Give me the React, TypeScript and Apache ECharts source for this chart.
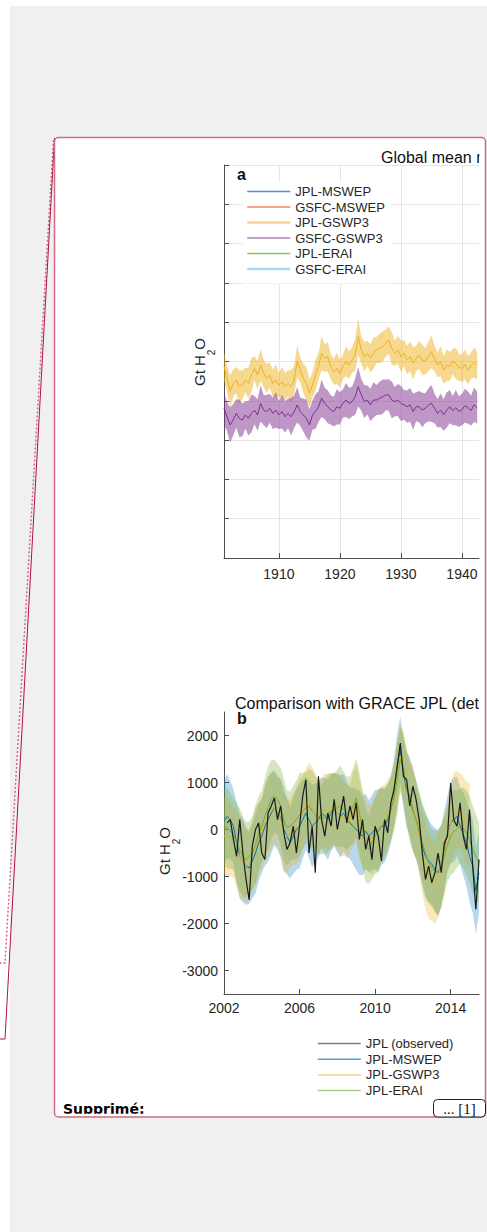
import React, { useEffect, useRef } from 'react';
import * as echarts from 'echarts';

const W = 487;
const H = 1232;
const FONT = "'Liberation Sans', Arial, Helvetica, sans-serif";
const INK = '#262626';

// ---- Panel a: global mean series (half-yearly samples from 1901) ----
const START_A = 1901;
const STEP_A = 0.5;
const jplGswp3 = [
  -26, -86, -153, -111, -94, -128, -120, -94, -111, -69, -35, -69, -18, -60, -86, -69, -111, -94, -120, -103,
  -128, -111, -128, -94, 1, -43, -86, -111, -162, -120, -69, -26, 42, 16, 25, -26, -52, -35, -60, -26,
  1, -18, 8, 33, 126, 59, 25, 42, 16, 42, 59, 67, 76, 93, 109, 67, 42, 59, 25, 42,
  8, 25, -9, 16, 33, 8, 1, 25, 50, 16, -18, 1, -43, -18, -26, 1, -10, -30, -35, -15,
  -45, -20, -5, -20,
];
const gsfcGswp3 = [
  -238, -281, -323, -298, -264, -289, -298, -272, -289, -264, -247, -272, -213, -247, -255, -238, -264, -247, -272, -255,
  -281, -264, -281, -255, -221, -255, -272, -289, -323, -272, -255, -230, -187, -213, -230, -247, -255, -230, -238, -213,
  -196, -213, -204, -179, -128, -170, -204, -196, -221, -196, -196, -187, -179, -170, -170, -196, -204, -196, -213, -221,
  -230, -221, -255, -230, -230, -247, -238, -221, -213, -238, -264, -247, -272, -247, -230, -250, -235, -255, -245, -225,
  -235, -250, -220, -235,
];
// half-widths of the ensemble spread
const jplGswp3Spread = [
  72, 64, 80, 70, 66, 84, 74, 62, 78, 88, 60, 72, 82, 68, 74, 64, 70, 80, 62, 76,
  70, 66, 84, 72, 80, 62, 74, 86, 70, 64, 78, 68, 86, 70, 74, 64, 66, 80, 72, 62,
  76, 70, 66, 82, 92, 70, 74, 64, 72, 80, 66, 74, 78, 68, 70, 84, 64, 72, 80, 66,
  72, 76, 82, 64, 70, 78, 66, 74, 84, 66, 62, 76, 70, 80, 74, 64, 80, 68, 70, 76,
  72, 66, 78, 70,
];
const gsfcGswp3Spread = [
  82, 74, 90, 80, 72, 94, 84, 70, 88, 96, 72, 80, 92, 76, 84, 74, 80, 90, 72, 86,
  80, 76, 94, 82, 90, 72, 84, 96, 80, 74, 88, 78, 96, 80, 84, 74, 76, 90, 82, 72,
  86, 80, 76, 92, 100, 80, 84, 74, 82, 90, 76, 84, 88, 78, 80, 94, 74, 82, 90, 76,
  82, 86, 92, 74, 80, 88, 76, 84, 94, 76, 72, 86, 80, 90, 84, 74, 90, 78, 80, 86,
  82, 76, 88, 80,
];
const legendA = ['JPL-MSWEP', 'GSFC-MSWEP', 'JPL-GSWP3', 'GSFC-GSWP3', 'JPL-ERAI', 'GSFC-ERAI'];
const decadeTicks = [1910, 1920, 1930, 1940];

// ---- Panel b: comparison with GRACE JPL (two-monthly samples from 2002) ----
const START_B = 2002;
const STEP_B = 1 / 6;
const observed = [
  null, 140, 210, -210, -570, 210, -500, -1060, -1500, -350, 0, 140, -500, -640, 350, 500, 670, 210, 500, -70,
  -425, -280, 70, -500, 70, 710, 1060, -500, 70, -920, 1130, 210, -140, 350, 70, 640, 0, 350, 710, 140,
  500, 210, 570, -210, 210, -425, -140, -640, 70, -140, -670, 210, -70, 570, 850, 1350, 1840, 1130, 1060, 500,
  920, 640, 210, -500, -1060, -780, -1130, -920, -500, -920, -280, -140, 990, 200, 70, 570, -140, -425, 425, -780,
  -1700, -640,
];
const mswep = [
  180, 280, 210, 70, -280, -570, -670, -780, -820, -670, -500, -280, -140, 70, 210, 350, 460, 350, 250, 0,
  -140, -280, -140, 0, 70, 210, 350, 210, 70, 140, 210, 350, 280, 210, 350, 425, 350, 280, 350, 210,
  140, 70, 0, -70, -140, -35, -140, -70, 0, -35, 70, 70, 210, 425, 780, 1280, 1700, 1200, 850, 710,
  425, 210, -70, -350, -570, -670, -740, -850, -920, -780, -425, -70, 140, 210, 280, 70, -100, -280, -570, -780,
  -1300, -920,
];
const gswp3 = [
  -140, -140, -210, -280, -425, -570, -670, -780, -710, -570, -350, -210, -70, 140, 280, 390, 460, 390, 210, -70,
  -140, -100, 0, 70, 210, 350, 570, 640, 500, 390, 280, 350, 425, 350, 425, 460, 350, 280, 210, 180,
  210, 425, 570, 210, 35, -100, -180, -210, -100, 35, 140, 210, 350, 500, 740, 1130, 1560, 1350, 920, 640,
  500, 210, -140, -500, -780, -990, -1100, -1130, -990, -780, -500, -140, 140, 350, 425, 390, 280, 140, 70,
];
const erai = [
  70, 35, -35, -100, -280, -425, -570, -640, -570, -500, -320, -100, 70, 280, 460, 640, 710, 640, 500, 210,
  35, 70, 140, 210, 320, 390, 460, 500, 390, 320, 250, 210, 280, 350, 390, 425, 460, 500, 425, 350,
  390, 500, 670, 350, 0, -350, -425, -280, -140, -35, 70, 140, 250, 425, 670, 1060, 1490, 1310, 920, 570,
  390, 210, 0, -280, -500, -710, -820, -890, -920, -780, -570, -320, -140, -35, 0, 70, 35, -70, -210, -425,
  -570, -710,
];
const mswepSpread = [
  850, 900, 820, 780, 860, 900, 880, 820, 760, 800, 860, 820, 780, 840, 900, 860, 800, 780, 840, 880,
  820, 760, 800, 860, 900, 840, 780, 820, 880, 840, 800, 760, 820, 860, 820, 780, 840, 880, 820, 800,
  760, 820, 860, 900, 840, 800, 760, 800, 840, 880, 820, 780, 740, 700, 720, 760, 700, 740, 800, 840,
  880, 840, 820, 860, 900, 880, 840, 880, 920, 880, 840, 800, 860, 900, 840, 820, 880, 920, 960, 1000,
  920, 880,
];
const gswp3Spread = [
  800, 840, 780, 740, 820, 860, 820, 780, 720, 760, 820, 780, 740, 800, 860, 820, 760, 740, 800, 840,
  780, 720, 760, 820, 860, 800, 740, 780, 840, 800, 760, 720, 780, 820, 780, 740, 800, 840, 780, 760,
  720, 780, 820, 860, 800, 760, 720, 760, 800, 840, 780, 740, 700, 680, 700, 740, 680, 720, 780, 820,
  860, 820, 800, 860, 920, 900, 860, 880, 900, 860, 820, 780, 840, 880, 820, 800, 840, 880, 900,
];
const eraiSpread = [
  820, 860, 800, 760, 840, 880, 850, 800, 740, 780, 840, 800, 760, 820, 880, 840, 780, 760, 820, 860,
  800, 740, 780, 840, 880, 820, 760, 800, 860, 820, 780, 740, 800, 840, 800, 760, 820, 860, 800, 780,
  740, 800, 840, 880, 820, 780, 740, 780, 820, 860, 800, 760, 720, 690, 710, 750, 690, 730, 790, 830,
  870, 830, 810, 850, 890, 870, 830, 870, 900, 860, 820, 780, 840, 880, 820, 800, 860, 900, 920, 940,
  900, 860,
];
const legendB = ['JPL (observed)', 'JPL-MSWEP', 'JPL-GSWP3', 'JPL-ERAI'];
const yearTicksB = [2002, 2006, 2010, 2014];
const valueTicksB = [-3000, -2000, -1000, 0, 1000, 2000];

const C = {
  blue: '#0072BD',
  orange: '#D95319',
  yellow: '#EDB120',
  purple: '#7E2F8E',
  green: '#77AC30',
  cyan: '#4DBEEE',
};

type Num = number | null;

function pairs(start: number, step: number, vals: Num[]) {
  return vals.map((v, i) => [start + i * step, v]);
}

// Shaded ensemble range drawn as one polygon (mean ± spread) through the axis scales.
function band(id: string, start: number, step: number, mean: number[], spread: number[], fill: string, axis: number) {
  const pts = mean.map((m, i) => [start + i * step, m - spread[i], m + spread[i]]);
  return {
    type: 'custom',
    name: id,
    xAxisIndex: axis,
    yAxisIndex: axis,
    silent: true,
    data: pts,
    encode: { x: 0, y: [1, 2] },
    renderItem: (params: any, api: any) => {
      if (params.dataIndex !== 0) return null;
      const upper = pts.map((p) => api.coord([p[0], p[2]]));
      const lower = pts.map((p) => api.coord([p[0], p[1]])).reverse();
      return {
        type: 'polygon',
        shape: { points: upper.concat(lower) },
        style: { fill, stroke: null },
      };
    },
  };
}

function line(name: string, data: any[], color: string, axis: number, width = 1) {
  return {
    type: 'line',
    name,
    data,
    symbol: 'none',
    silent: true,
    xAxisIndex: axis,
    yAxisIndex: axis,
    lineStyle: { color, width },
    itemStyle: { color },
    emphasis: { disabled: true },
  };
}

function axisNameText(x: number, y: number) {
  return {
    type: 'text',
    x,
    y,
    rotation: Math.PI / 2,
    z: -70,
    style: {
      text: '{n|Gt H}{s|2}{n|O}',
      align: 'center',
      verticalAlign: 'middle',
      rich: {
        n: { fontSize: 15, fontFamily: FONT, fill: INK, lineHeight: 15, verticalAlign: 'middle' },
        s: { fontSize: 10, fontFamily: FONT, fill: INK, lineHeight: 10, verticalAlign: 'top', padding: [15, 0, 0, 0] },
      },
    },
  };
}

const plain = (v: number) => String(v);
const tickStyle = { color: '#4d4d4d', width: 1 };
const axisLineStyle = { color: '#4d4d4d', width: 1 };
const labelStyle = { color: INK, fontSize: 14, fontFamily: FONT, formatter: plain };

const legendCommon = {
  orient: 'vertical',
  itemWidth: 43,
  itemHeight: 14,
  selectedMode: false,
  itemStyle: { opacity: 0 },
  textStyle: { color: INK, fontSize: 13, fontFamily: FONT },
};

const option: any = {
  animation: false,
  backgroundColor: '#ffffff',
  textStyle: { fontFamily: FONT },
  grid: [
    { left: 224, top: 165, width: 255, height: 393, outerBoundsMode: 'none', containLabel: false },
    { left: 224, top: 712, width: 255, height: 282, outerBoundsMode: 'none', containLabel: false },
  ],
  xAxis: [
    {
      type: 'value',
      gridIndex: 0,
      min: 1901,
      max: 1942.8,
      axisLine: { show: true, onZero: false, lineStyle: axisLineStyle },
      axisTick: { show: true, inside: true, length: 5, customValues: decadeTicks, lineStyle: tickStyle },
      axisLabel: { ...labelStyle, margin: 9, customValues: decadeTicks },
      splitLine: { show: true, lineStyle: { color: '#e6e6e6', width: 1 } },
    },
    {
      type: 'value',
      gridIndex: 1,
      min: 2002,
      max: 2015.5,
      axisLine: { show: true, onZero: false, lineStyle: axisLineStyle },
      axisTick: { show: true, inside: true, length: 5, customValues: yearTicksB, lineStyle: tickStyle },
      axisLabel: { ...labelStyle, margin: 7, customValues: yearTicksB },
      splitLine: { show: false },
    },
  ],
  yAxis: [
    {
      type: 'value',
      gridIndex: 0,
      min: -1000,
      max: 1000,
      interval: 200,
      axisLine: { show: true, onZero: false, lineStyle: axisLineStyle },
      axisTick: { show: true, inside: true, length: 5, lineStyle: tickStyle },
      axisLabel: { show: false },
      splitLine: { show: true, lineStyle: { color: '#e6e6e6', width: 1 } },
    },
    {
      type: 'value',
      gridIndex: 1,
      min: -3500,
      max: 2500,
      axisLine: { show: true, onZero: false, lineStyle: axisLineStyle },
      axisTick: { show: true, inside: true, length: 5, customValues: valueTicksB, lineStyle: tickStyle },
      axisLabel: { ...labelStyle, margin: 6, customValues: valueTicksB },
      splitLine: { show: false },
    },
  ],
  legend: [
    {
      ...legendCommon,
      left: 243,
      top: 182,
      padding: [3, 6, 8, 3],
      itemGap: 2.5,
      backgroundColor: '#ffffff',
      data: [
        { name: legendA[0], lineStyle: { color: '#5190cd', width: 1.5 } },
        { name: legendA[1], lineStyle: { color: '#ef8a5e', width: 1.5 } },
        { name: legendA[2], lineStyle: { color: '#f6d590', width: 2.5 } },
        { name: legendA[3], lineStyle: { color: '#a883b6', width: 1.5 } },
        { name: legendA[4], lineStyle: { color: '#8dc35a', width: 1.5 } },
        { name: legendA[5], lineStyle: { color: '#a6dcf4', width: 2.5 } },
      ],
    },
    {
      ...legendCommon,
      left: 317,
      top: 1037,
      padding: 0,
      itemGap: 2.7,
      data: [
        { name: legendB[0], lineStyle: { color: '#7d7d7d', width: 1.5 } },
        { name: legendB[1], lineStyle: { color: '#4fa2de', width: 1.5 } },
        { name: legendB[2], lineStyle: { color: '#f3d38a', width: 1.5 } },
        { name: legendB[3], lineStyle: { color: '#a9cd86', width: 1.5 } },
      ],
    },
  ],
  series: [
    // panel a
    line(legendA[0], [], C.blue, 0),
    line(legendA[1], [], C.orange, 0),
    band('jplGswp3Range', START_A, STEP_A, jplGswp3, jplGswp3Spread, 'rgba(237,177,32,0.5)', 0),
    line(legendA[2], pairs(START_A, STEP_A, jplGswp3), C.yellow, 0),
    band('gsfcGswp3Range', START_A, STEP_A, gsfcGswp3, gsfcGswp3Spread, 'rgba(126,47,142,0.5)', 0),
    line(legendA[3], pairs(START_A, STEP_A, gsfcGswp3), C.purple, 0),
    line(legendA[4], [], C.green, 0),
    line(legendA[5], [], C.cyan, 0),
    // panel b
    band('mswepRange', START_B, STEP_B, mswep, mswepSpread, 'rgba(0,114,189,0.28)', 1),
    band('gswp3Range', START_B, STEP_B, gswp3, gswp3Spread, 'rgba(237,177,32,0.3)', 1),
    band('eraiRange', START_B, STEP_B, erai, eraiSpread, 'rgba(119,172,48,0.3)', 1),
    line(legendB[1], pairs(START_B, STEP_B, mswep), C.blue, 1),
    line(legendB[2], pairs(START_B, STEP_B, gswp3), C.yellow, 1),
    line(legendB[3], pairs(START_B, STEP_B, erai), C.green, 1),
    line(legendB[0], pairs(START_B, STEP_B, observed), '#1a1a1a', 1, 1.2),
  ],
  graphic: [
    // page and comment balloon
    { type: 'rect', z: -100, shape: { x: 10, y: 6, width: W - 10, height: H - 6 }, style: { fill: '#f0f0f0' }, silent: true },
    { type: 'rect', z: -90, shape: { x: 54.5, y: 137.5, width: 431, height: 979.5, r: 4 }, style: { fill: '#ffffff' }, silent: true },
    // connector lines towards the margin
    { type: 'polyline', z: -80, shape: { points: [[53.5, 140], [5, 963], [0, 963]] }, style: { stroke: '#cf6486', lineWidth: 1.4, lineDash: [2, 2], fill: null }, silent: true },
    { type: 'polyline', z: -80, shape: { points: [[54.5, 138], [5, 1039], [0, 1039]] }, style: { stroke: '#b5123e', lineWidth: 1, fill: null }, silent: true },
    // panel texts
    { type: 'text', z: -75, x: 381, y: 157, style: { text: 'Global mean r', fontSize: 16, fontFamily: FONT, fill: '#111', verticalAlign: 'middle' } },
    { type: 'text', z: -75, x: 237, y: 174, style: { text: 'a', fontSize: 16, fontWeight: 'bold', fontFamily: FONT, fill: '#111', verticalAlign: 'middle' } },
    { type: 'text', z: -75, x: 235, y: 703, style: { text: 'Comparison with GRACE JPL (det', fontSize: 16, fontFamily: FONT, fill: '#111', verticalAlign: 'middle' } },
    { type: 'text', z: -75, x: 237, y: 718, style: { text: 'b', fontSize: 16, fontWeight: 'bold', fontFamily: FONT, fill: '#111', verticalAlign: 'middle' } },
    axisNameText(199, 362),
    axisNameText(164, 851),
    { type: 'text', z: -75, x: 63, y: 1108.7, style: { text: 'Supprimé:', fontSize: 14, fontWeight: 'bold', fontFamily: "'DejaVu Sans', sans-serif", fill: '#000', verticalAlign: 'middle' } },
    // trims at the balloon's edges
    { type: 'rect', z: -65, shape: { x: 56, y: 1113.8, width: 150, height: 3 }, style: { fill: '#ffffff' }, silent: true },
    { type: 'rect', z: -60, shape: { x: 479.5, y: 140, width: 6, height: 960 }, style: { fill: '#ffffff' }, silent: true },
    { type: 'rect', z: -60, shape: { x: 10, y: 1118, width: W - 10, height: H - 1118 }, style: { fill: '#f0f0f0' }, silent: true },
    { type: 'rect', z: -50, shape: { x: 54.5, y: 137.5, width: 431, height: 979.5, r: 4 }, style: { fill: null, stroke: '#d56a82', lineWidth: 1.5 }, silent: true },
    // "... [1]" marker
    { type: 'rect', z: 20, shape: { x: 433.5, y: 1099.5, width: 52, height: 17.5, r: 4 }, style: { fill: '#ffffff', stroke: '#222', lineWidth: 1 }, silent: true },
    { type: 'text', z: 21, x: 459.5, y: 1108.5, style: { text: '... [1]', fontSize: 15, fontFamily: "'Liberation Serif', serif", fill: '#111', align: 'center', verticalAlign: 'middle' } },
  ],
};

export default function App() {
  const ref = useRef<HTMLDivElement>(null);
  useEffect(() => {
    if (!ref.current) return;
    const chart = echarts.init(ref.current, null, { renderer: 'svg' });
    chart.setOption(option);
    return () => chart.dispose();
  }, []);
  return <div ref={ref} style={{ position: 'absolute', left: 0, top: 0, width: W, height: H }} />;
}
